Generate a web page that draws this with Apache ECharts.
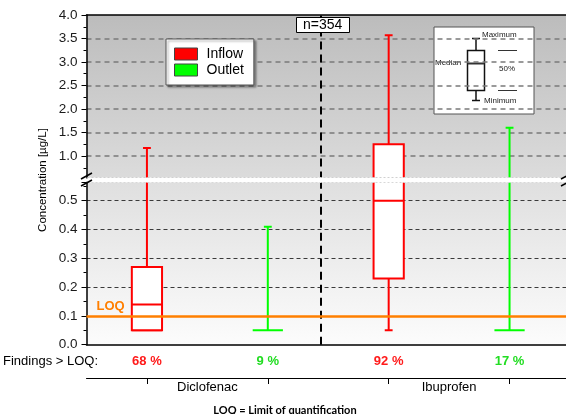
<!DOCTYPE html>
<html><head><meta charset="utf-8">
<script src="https://cdn.jsdelivr.net/npm/echarts@6.0.0/dist/echarts.min.js"></script>
<style>html,body{margin:0;padding:0;background:#fff}#c{width:566px;height:414px}</style>
</head><body><div id="c"></div>
<script>
// ---- data ----
const drugs = ['Diclofenac', 'Ibuprofen'];
const groups = ['Inflow', 'Outlet'];
const inflowMin = [0.05, 0.05];
const inflowQ1 = [0.05, 0.23];
const inflowMedian = [0.14, 0.50];
const inflowQ3 = [0.27, 1.25];
const inflowMax = [1.17, 3.57];
const outletMin = [0.05, 0.05];
const outletQ1 = [0.05, 0.05];
const outletMedian = [0.05, 0.05];
const outletQ3 = [0.05, 0.05];
const outletMax = [0.41, 1.60];
const inflowFindings = ['68 %', '92 %'];
const outletFindings = ['9 %', '17 %'];
const upperAxisRange = [0.5, 4.0, 0.5];   // min, max, step
const lowerAxisRange = [0, 0.565, 0.1];
const xAxisRange = [0, 3.967];            // visible part of the 4 slots
const loq = 0.1;
const sampleCount = 354;
const separatorX = 1.94;

// ---- helpers ----
const FONT = 'Liberation Sans';
const RED = '#ff0000', GREEN = '#00ff00';
const inflowData = drugs.map((d, i) => [i * 2 + 0.5, inflowMin[i], inflowQ1[i], inflowMedian[i], inflowQ3[i], inflowMax[i]]);
const outletData = drugs.map((d, i) => [i * 2 + 1.5, outletMin[i], outletQ1[i], outletMedian[i], outletQ3[i], outletMax[i]]);
const findingsPos = [];
const findingsText = {};
drugs.forEach((d, i) => {
  findingsText[i * 2 + 0.5] = '{r|' + inflowFindings[i] + '}';
  findingsText[i * 2 + 1.5] = '{g|' + outletFindings[i] + '}';
  findingsPos.push(i * 2 + 0.5, i * 2 + 1.5);
});

function makeRender(color) {
  return function (params, api) {
    const x = api.value(0);
    const mn = api.value(1), q1 = api.value(2), md = api.value(3), q3 = api.value(4), mx = api.value(5);
    const unit = api.size([1, 0])[0];
    const bw = unit * 0.25, cw = unit * 0.065;
    const p = v => api.coord([x, v]);
    const pMin = p(mn), pQ1 = p(q1), pMd = p(md), pQ3 = p(q3), pMax = p(mx);
    const cx = pMin[0];
    const ls = { stroke: color, lineWidth: 2, fill: null };
    const children = [
      { type: 'line', shape: { x1: cx, y1: pMin[1], x2: cx, y2: pQ1[1] }, style: ls },
      { type: 'line', shape: { x1: cx, y1: pQ3[1], x2: cx, y2: pMax[1] }, style: ls },
      { type: 'line', shape: { x1: cx - cw / 2, y1: pMax[1], x2: cx + cw / 2, y2: pMax[1] }, style: ls }
    ];
    const minCap = (q1 - mn) < 1e-9 ? bw : cw;
    children.push({ type: 'line', shape: { x1: cx - minCap / 2, y1: pMin[1], x2: cx + minCap / 2, y2: pMin[1] }, style: ls });
    if (q3 - q1 > 1e-9) {
      children.push({ type: 'rect', shape: { x: cx - bw / 2, y: pQ3[1], width: bw, height: pQ1[1] - pQ3[1] }, style: { fill: '#fff', stroke: color, lineWidth: 2 } });
      children.push({ type: 'line', shape: { x1: cx - bw / 2, y1: pMd[1], x2: cx + bw / 2, y2: pMd[1] }, style: ls });
    }
    return { type: 'group', children };
  };
}

function grad(a, b) {
  return new echarts.graphic.LinearGradient(0, 0, 0, 1, [{ offset: 0, color: a }, { offset: 1, color: b }]);
}

const isStep = v => Math.abs(v * 10 - Math.round(v * 10)) < 1e-6;

const yCommon = {
  type: 'value',
  axisLine: { show: true, lineStyle: { color: '#000', width: 1.5 } },
  axisTick: { show: true, length: 5, lineStyle: { color: '#000' } },
  minorTick: { show: true, splitNumber: 2, length: 3, lineStyle: { color: '#000' } },
  axisLabel: { color: '#1a1a1a', fontSize: 13.5, fontFamily: FONT, margin: 9 }
};

const sepLine = {
  silent: true, symbol: ['none', 'none'], animation: false,
  label: { show: false },
  lineStyle: { color: '#000', type: [8, 5], width: 2 },
  data: [{ xAxis: separatorX }]
};

const option = {
  animation: false,
  title: {
    text: 'n=' + sampleCount, left: 296, top: 17, padding: [1, 7],
    backgroundColor: '#fff', borderColor: '#000', borderWidth: 1,
    textStyle: { fontSize: 14, fontWeight: 'normal', color: '#000', fontFamily: FONT }
  },
  legend: {
    left: 166, top: 39, orient: 'vertical', icon: 'rect',
    itemWidth: 23, itemHeight: 12, itemGap: 0,
    padding: [7, 10, 7, 8],
    backgroundColor: '#fff', borderColor: '#555', borderWidth: 1,
    shadowColor: 'rgba(0,0,0,0.35)', shadowOffsetX: 2, shadowOffsetY: 2, shadowBlur: 2,
    textStyle: { fontSize: 14, color: '#000', fontFamily: FONT, lineHeight: 16, padding: [0, 0, 0, 4] },
    data: [
      { name: groups[0], itemStyle: { color: RED, borderColor: '#444', borderWidth: 1 } },
      { name: groups[1], itemStyle: { color: GREEN, borderColor: '#444', borderWidth: 1 } }
    ]
  },
  grid: [
    { left: 86.5, right: 0, top: 15, height: 164.5, show: true, borderWidth: 0, backgroundColor: grad('#bcbcbc', '#dcdcdc') },
    { left: 86.5, right: 0, top: 182, height: 162.7, show: true, borderWidth: 0, backgroundColor: grad('#dfdfdf', '#fcfcfc') },
    { left: 86.5, right: 0, top: 377, height: 1, show: false }
  ],
  xAxis: [
    { gridIndex: 0, type: 'value', min: xAxisRange[0], max: xAxisRange[1], position: 'top',
      axisLine: { show: true, lineStyle: { color: '#000', width: 1.5 } },
      axisTick: { show: false }, axisLabel: { show: false }, splitLine: { show: false } },
    { gridIndex: 1, type: 'value', min: xAxisRange[0], max: xAxisRange[1], position: 'bottom',
      axisLine: { show: true, lineStyle: { color: '#000', width: 1.5 } },
      axisTick: { show: false }, splitLine: { show: false },
      axisLabel: {
        show: true, customValues: findingsPos, margin: 10,
        formatter: v => findingsText[v] || '',
        rich: {
          r: { color: '#ff1a1a', fontWeight: 'bold', fontSize: 13, fontFamily: FONT },
          g: { color: '#22dd22', fontWeight: 'bold', fontSize: 13, fontFamily: FONT }
        }
      } },
    { gridIndex: 2, type: 'value', min: xAxisRange[0], max: xAxisRange[1], position: 'bottom',
      axisLine: { show: true, lineStyle: { color: '#000', width: 1 } },
      axisTick: { show: true, customValues: findingsPos, length: 6, lineStyle: { color: '#000' } },
      splitLine: { show: false },
      axisLabel: {
        show: true, customValues: drugs.map((d, i) => i * 2 + 1), margin: 3,
        formatter: v => drugs[Math.round((v - 1) / 2)] || '',
        color: '#000', fontSize: 13, fontFamily: FONT
      } }
  ],
  yAxis: [
    Object.assign({}, yCommon, {
      gridIndex: 0, min: upperAxisRange[0], max: upperAxisRange[1], interval: upperAxisRange[2],
      axisLabel: Object.assign({}, yCommon.axisLabel, { showMinLabel: false, formatter: v => v.toFixed(1) }),
      splitLine: { show: true, showMinLine: false, showMaxLine: false, lineStyle: { color: '#7a7a7a', type: [5, 4], width: 1.5 } }
    }),
    Object.assign({}, yCommon, {
      gridIndex: 1, min: lowerAxisRange[0], max: lowerAxisRange[1], interval: lowerAxisRange[2],
      axisLabel: Object.assign({}, yCommon.axisLabel, { showMaxLabel: false, formatter: v => isStep(v) ? v.toFixed(1) : '' }),
      splitLine: { show: true, showMinLine: false, showMaxLine: false, lineStyle: { color: '#3a3a3a', type: [4, 3], width: 1 } }
    }),
    { gridIndex: 2, type: 'value', show: false }
  ],
  series: [
    { name: groups[0], type: 'custom', xAxisIndex: 0, yAxisIndex: 0, clip: true, itemStyle: { color: RED },
      renderItem: makeRender(RED), data: inflowData, encode: { x: 0, y: [1, 2, 3, 4, 5] }, markLine: sepLine, z: 3 },
    { name: groups[1], type: 'custom', xAxisIndex: 0, yAxisIndex: 0, clip: true, itemStyle: { color: GREEN },
      renderItem: makeRender(GREEN), data: outletData, encode: { x: 0, y: [1, 2, 3, 4, 5] }, z: 3 },
    { name: groups[0], type: 'custom', xAxisIndex: 1, yAxisIndex: 1, clip: true, itemStyle: { color: RED },
      renderItem: makeRender(RED), data: inflowData, encode: { x: 0, y: [1, 2, 3, 4, 5] }, markLine: sepLine, z: 3 },
    { name: groups[1], type: 'custom', xAxisIndex: 1, yAxisIndex: 1, clip: true, itemStyle: { color: GREEN },
      renderItem: makeRender(GREEN), data: outletData, encode: { x: 0, y: [1, 2, 3, 4, 5] }, z: 3,
      markLine: {
        silent: true, symbol: ['none', 'none'], animation: false,
        lineStyle: { color: '#ff7f00', type: 'solid', width: 2.5 },
        label: { show: true, position: 'insideStartTop', formatter: 'LOQ', color: '#ff7f00', fontWeight: 'bold', fontSize: 13, fontFamily: FONT, distance: [10, 3] },
        data: [{ yAxis: loq }]
      } }
  ],
  graphic: [
    // y axis title
    { type: 'text', x: 43, y: 180, rotation: Math.PI / 2, z: 10,
      style: { text: 'Concentration [µg/L]', align: 'center', verticalAlign: 'middle', fontSize: 11.5, fontFamily: FONT, fill: '#000' } },
    { type: 'text', left: 3, top: 355, z: 10,
      style: { text: 'Findings > LOQ:', fontSize: 13, fontFamily: FONT, fill: '#000' } },
    { type: 'text', x: 285, y: 410, z: 10,
      style: { text: 'LOQ = Limit of quantification', align: 'center', verticalAlign: 'middle', fontSize: 11, fontWeight: 'bold', fontFamily: 'Lato', fill: '#000' } },
    // axis break band
    { type: 'rect', z: 100, shape: { x: 87.5, y: 177.5, width: 480, height: 5 }, style: { fill: '#fff' } },
    { type: 'line', z: 101, shape: { x1: 87.5, y1: 177.5, x2: 566, y2: 177.5 }, style: { stroke: '#d0d0d0', lineWidth: 1, lineDash: [2, 2] } },
    { type: 'line', z: 101, shape: { x1: 87.5, y1: 182.5, x2: 566, y2: 182.5 }, style: { stroke: '#d8d8d8', lineWidth: 1, lineDash: [2, 2] } },
    { type: 'rect', z: 100, shape: { x: 80, y: 178.5, width: 8, height: 3 }, style: { fill: '#fff' } },
    { type: 'line', z: 102, shape: { x1: 81, y1: 179, x2: 92, y2: 173 }, style: { stroke: '#000', lineWidth: 1.5 } },
    { type: 'line', z: 102, shape: { x1: 81, y1: 186, x2: 92, y2: 180 }, style: { stroke: '#000', lineWidth: 1.5 } },
    { type: 'line', z: 102, shape: { x1: 561, y1: 179, x2: 572, y2: 173 }, style: { stroke: '#000', lineWidth: 1.5 } },
    { type: 'line', z: 102, shape: { x1: 561, y1: 186, x2: 572, y2: 180 }, style: { stroke: '#000', lineWidth: 1.5 } },
    // box-plot key inset
    { type: 'group', z: 50, children: [
      { type: 'rect', shape: { x: 434, y: 27, width: 100, height: 87 }, style: { fill: '#fff', stroke: '#555', lineWidth: 1 } },
      { type: 'line', shape: { x1: 476, y1: 38.5, x2: 476, y2: 100.5 }, style: { stroke: '#111', lineWidth: 1.5 } },
      { type: 'line', shape: { x1: 472, y1: 38.5, x2: 480, y2: 38.5 }, style: { stroke: '#111', lineWidth: 1.5 } },
      { type: 'line', shape: { x1: 472, y1: 100.5, x2: 480, y2: 100.5 }, style: { stroke: '#111', lineWidth: 1.5 } },
      { type: 'rect', shape: { x: 467.5, y: 50.5, width: 17, height: 40 }, style: { fill: '#fff', stroke: '#111', lineWidth: 1.5 } },
      { type: 'line', shape: { x1: 467.5, y1: 63.5, x2: 484.5, y2: 63.5 }, style: { stroke: '#333', lineWidth: 2 } },
      { type: 'line', shape: { x1: 498, y1: 50.5, x2: 517, y2: 50.5 }, style: { stroke: '#333', lineWidth: 1 } },
      { type: 'line', shape: { x1: 498, y1: 90.5, x2: 517, y2: 90.5 }, style: { stroke: '#333', lineWidth: 1 } },
      { type: 'text', x: 482, y: 35, style: { text: 'Maximum', verticalAlign: 'middle', fontSize: 8, fontFamily: FONT, fill: '#222' } },
      { type: 'text', x: 435, y: 63, style: { text: 'Median', verticalAlign: 'middle', fontSize: 8, fontFamily: FONT, fill: '#222' } },
      { type: 'text', x: 507, y: 69, style: { text: '50%', align: 'center', verticalAlign: 'middle', fontSize: 8, fontFamily: FONT, fill: '#222' } },
      { type: 'text', x: 484, y: 101, style: { text: 'Minimum', verticalAlign: 'middle', fontSize: 8, fontFamily: FONT, fill: '#222' } }
    ] }
  ]
};

const chart = echarts.init(document.getElementById('c'), null, { renderer: 'canvas' });
chart.setOption(option);
</script>
</body></html>
